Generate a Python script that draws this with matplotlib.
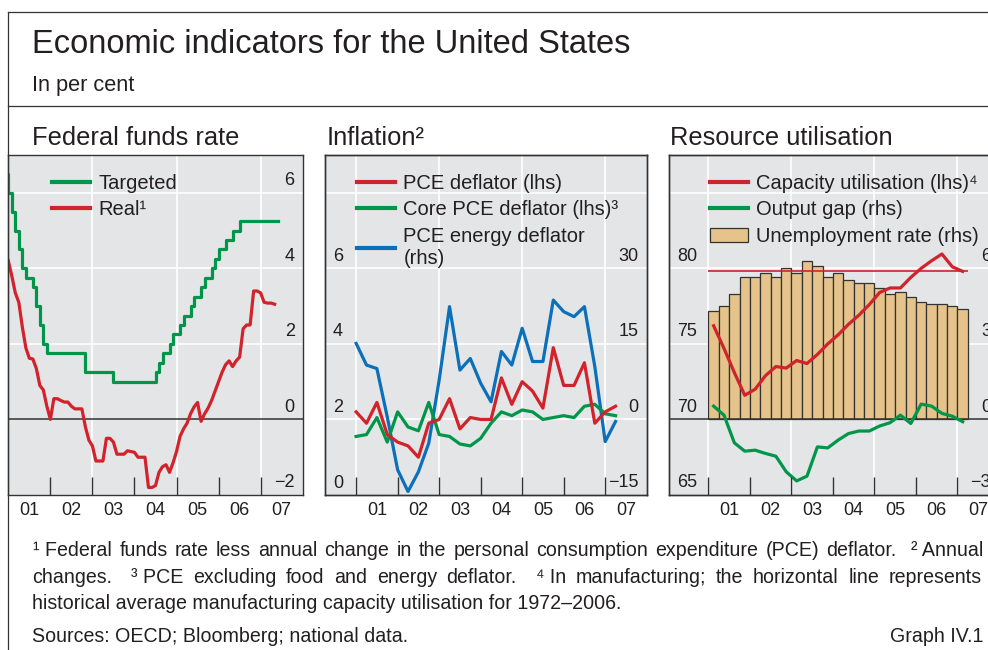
import matplotlib.pyplot as plt
import matplotlib.transforms as mtransforms
from matplotlib.lines import Line2D
from matplotlib.patches import Patch
from matplotlib.ticker import NullFormatter
import numpy as np

plt.rcParams['font.family'] = ['Liberation Sans', 'DejaVu Sans']

W, H = 988, 650
INK = '#231f20'
BG = '#e4e5e7'
EDGE = '#333333'
RED = '#d0232b'
GREEN = '#00964a'
BLUE = '#0b70b9'
TAN = '#e5c38b'

# ---- data ----
# fed funds target, monthly from Dec 2000 to Jun 2007
target = [6.5,
          6.0, 5.5, 5.0, 4.5, 4.0, 3.75, 3.75, 3.5, 3.0, 2.5, 2.0, 1.75,
          1.75, 1.75, 1.75, 1.75, 1.75, 1.75, 1.75, 1.75, 1.75, 1.75, 1.25, 1.25,
          1.25, 1.25, 1.25, 1.25, 1.25, 1.25, 1.0, 1.0, 1.0, 1.0, 1.0, 1.0,
          1.0, 1.0, 1.0, 1.0, 1.0, 1.0, 1.25, 1.5, 1.75, 1.75, 2.0, 2.25,
          2.25, 2.5, 2.75, 2.75, 3.0, 3.25, 3.25, 3.5, 3.75, 3.75, 4.0, 4.25,
          4.5, 4.5, 4.75, 4.75, 5.0, 5.0, 5.25, 5.25, 5.25, 5.25, 5.25, 5.25,
          5.25, 5.25, 5.25, 5.25, 5.25, 5.25]
# real fed funds rate, monthly Jan 2001 - May 2007
real = [4.2, 3.8, 3.35, 3.1, 2.45, 1.9, 1.62, 1.6, 1.35, 0.9, 0.78, 0.35,
        0.0, 0.55, 0.55, 0.5, 0.46, 0.46, 0.35, 0.28, 0.28, 0.28, -0.2, -0.55,
        -0.7, -1.1, -1.1, -1.1, -0.5, -0.5, -0.6, -0.92, -0.92, -0.92, -0.83, -0.85,
        -0.87, -1.0, -1.0, -1.0, -1.8, -1.8, -1.75, -1.4, -1.25, -1.2, -1.4, -1.15,
        -0.85, -0.45, -0.25, -0.1, 0.15, 0.33, 0.45, -0.05, 0.15, 0.3, 0.5, 0.75,
        1.0, 1.25, 1.45, 1.55, 1.4, 1.55, 1.65, 2.4, 2.5, 2.5, 3.4, 3.4,
        3.35, 3.1, 3.08, 3.08, 3.05]

# inflation, quarterly 2001Q1 - 2007Q2
pce = [2.2, 1.9, 2.45, 1.6, 1.4, 1.3, 1.0, 1.9, 2.0, 2.55, 1.75, 2.05, 2.0,
       2.0, 3.1, 2.4, 3.0, 2.75, 2.3, 3.9, 2.9, 2.9, 3.5, 1.9, 2.2, 2.35]
core_pce = [1.55, 1.6, 2.05, 1.4, 2.2, 1.8, 1.7, 2.45, 1.6, 1.55, 1.35, 1.3, 1.5,
            1.9, 2.2, 2.1, 2.25, 2.2, 2.0, 2.05, 2.1, 2.05, 2.35, 2.4, 2.15, 2.1]
energy = [15.1, 10.8, 10.1, 0.5, -10.0, -14.3, -10.4, -4.7, 7.8, 22.4, 9.8, 12.1, 7.2,
          3.5, 13.5, 10.8, 18.1, 11.5, 11.5, 23.7, 21.4, 20.4, 22.4, 10.5, -4.4, -0.4]

# resource utilisation, quarterly 2001Q1 - 2007Q1
unemp = [4.3, 4.5, 5.0, 5.65, 5.65, 5.8, 5.65, 6.0, 5.8, 6.3, 6.1, 5.65, 5.8,
         5.55, 5.4, 5.4, 5.2, 5.0, 5.05, 4.85, 4.65, 4.6, 4.6, 4.5, 4.4]
capacity = [76.2, 74.7, 73.1, 71.6, 72.0, 72.9, 73.5, 73.4, 73.9, 73.7, 74.3, 75.0, 75.6,
            76.3, 76.9, 77.6, 78.4, 78.7, 78.7, 79.4, 80.0, 80.5, 80.95, 80.1, 79.8]
output_gap = [0.53, 0.17, -0.93, -1.26, -1.22, -1.35, -1.46, -2.08, -2.44, -2.25, -1.09, -1.13, -0.82,
              -0.56, -0.46, -0.46, -0.26, -0.13, 0.17, -0.16, 0.61, 0.53, 0.24, 0.13, -0.09]
cu_average = 79.8

year_labels = ['01', '02', '03', '04', '05', '06', '07']

t_target = 2000 + 11 / 12 + np.arange(len(target)) / 12
t_real = 2001 + np.arange(len(real)) / 12
t_infl = 2001 + 0.25 * np.arange(len(pce))
t_bars = 2001 + 0.25 * np.arange(len(unemp))
t_res = t_bars + 0.125

fig = plt.figure(figsize=(W / 100, H / 100), dpi=100)


def box(x0, y0, x1, y1):
    return [x0 / W, 1 - y1 / H, (x1 - x0) / W, (y1 - y0) / H]


def background(ax, xlim, ylim, hgrid, zero=None):
    ax.set_xlim(xlim)
    ax.set_ylim(ylim)
    ax.patch.set_visible(True)
    ax.set_facecolor(BG)
    for v in hgrid:
        ax.axhline(v, color='white', lw=1.2, zorder=0.5)
    for yr in (2001, 2003, 2005, 2007):
        ax.axvline(yr, color='white', lw=1.2, zorder=0.5)
    if zero is not None:
        ax.axhline(zero, color=EDGE, lw=1.1, zorder=2.5)


def frame(ax):
    for s in ax.spines.values():
        s.set_color(EDGE)
        s.set_linewidth(1)
    ax.tick_params(axis='y', left=False, right=False, labelleft=False, labelright=False)


def xaxis(ax, first):
    ax.set_xticks(range(first, 2008))
    ax.set_xticks([y + 0.5 for y in range(2001, 2008)], minor=True)
    ax.set_xticklabels(year_labels, minor=True)
    ax.xaxis.set_major_formatter(NullFormatter())
    ax.tick_params(axis='x', which='major', direction='in', length=13, width=1, color=EDGE)
    ax.tick_params(axis='x', which='minor', length=0, pad=5, labelsize=13, labelcolor=INK)


def ylabels(ax, vals, side):
    dx = 8 if side == 'left' else -8
    off = mtransforms.ScaledTranslation(dx / 100, 7.5 / 100, fig.dpi_scale_trans)
    for v in vals:
        ax.text(0 if side == 'left' else 1, v, f'{v:g}'.replace('-', '\u2212'),
                transform=ax.get_yaxis_transform() + off,
                ha=side, va='baseline', fontsize=13, color=INK)


def legend(ax, handles, labels, fx):
    ax.legend(handles, labels, loc='upper left', bbox_to_anchor=(fx, 0.945),
              frameon=False, fontsize=14.5, handlelength=1.9, handletextpad=0.4,
              labelspacing=0.38, borderpad=0, borderaxespad=0, labelcolor=INK)


# ---- panel 1: federal funds rate ----
ax1 = fig.add_axes(box(8.3, 155, 302.7, 495))
background(ax1, (2001, 2008), (-2, 7), [2, 4, 6], zero=0)
frame(ax1)
xaxis(ax1, 2002)
ax1.plot(t_target, target, color=GREEN, lw=2.3, drawstyle='steps-post', zorder=3)
ax1.plot(t_real, real, color=RED, lw=2.3, zorder=3)
ylabels(ax1, [-2, 0, 2, 4, 6], 'right')
legend(ax1, [Line2D([], [], color=GREEN, lw=3), Line2D([], [], color=RED, lw=3)],
       ['Targeted', 'Real\u00b9'], 0.148)

# ---- panel 2: inflation ----
ax2 = fig.add_axes(box(325, 155, 646.7, 495))
tw2 = ax2.twinx()
ax2.set_zorder(tw2.get_zorder() + 1)
ax2.patch.set_visible(False)
ax2.set_xlim(2000.25, 2008.0)
ax2.set_ylim(0, 9)
background(tw2, (2000.25, 2008.0), (-15, 52.5), [0, 15, 30, 45])
frame(ax2)
frame(tw2)
xaxis(ax2, 2001)
tw2.plot(t_infl, energy, color=BLUE, lw=2.3, zorder=3)
ax2.plot(t_infl, core_pce, color=GREEN, lw=2.3, zorder=3)
ax2.plot(t_infl, pce, color=RED, lw=2.3, zorder=3)
ylabels(ax2, [0, 2, 4, 6], 'left')
ylabels(tw2, [-15, 0, 15, 30], 'right')
legend(ax2, [Line2D([], [], color=RED, lw=3), Line2D([], [], color=GREEN, lw=3),
             Line2D([], [], color=BLUE, lw=3)],
       ['PCE deflator (lhs)', 'Core PCE deflator (lhs)\u00b3', 'PCE energy deflator\n(rhs)'], 0.0995)

# ---- panel 3: resource utilisation ----
ax3 = fig.add_axes(box(669, 155, 999, 495))
tw3 = ax3.twinx()
ax3.set_zorder(tw3.get_zorder() + 1)
ax3.patch.set_visible(False)
ax3.set_xlim(2000.05, 2008.0)
ax3.set_ylim(65, 87.5)
background(tw3, (2000.05, 2008.0), (-3, 10.5), [3, 6, 9], zero=0)
frame(ax3)
frame(tw3)
xaxis(ax3, 2001)
tw3.bar(t_bars, unemp, width=0.25, align='edge', color=TAN, edgecolor=EDGE, lw=0.9, zorder=2)
tw3.plot(t_res, output_gap, color=GREEN, lw=2.3, zorder=3)
ax3.hlines(cu_average, t_bars[0], t_bars[-1] + 0.25, color=RED, lw=1.2, zorder=3)
ax3.plot(t_res, capacity, color=RED, lw=2.3, zorder=3)
ylabels(ax3, [65, 70, 75, 80], 'left')
ylabels(tw3, [-3, 0, 3, 6], 'right')
legend(ax3, [Line2D([], [], color=RED, lw=3), Line2D([], [], color=GREEN, lw=3),
             Patch(facecolor=TAN, edgecolor=EDGE, lw=0.9)],
       ['Capacity utilisation (lhs)\u2074', 'Output gap (rhs)', 'Unemployment rate (rhs)'], 0.124)


# ---- header, frame lines, footnotes ----
def ftext(x, y, s, **kw):
    kw.setdefault('color', INK)
    kw.setdefault('va', 'baseline')
    return fig.text(x / W, 1 - y / H, s, **kw)


def hline(y, x0, x1):
    fig.add_artist(Line2D([x0 / W, x1 / W], [1 - y / H, 1 - y / H], color=EDGE, lw=0.9))


hline(11.7, 8.3, W)
hline(106, 8.3, W)
fig.add_artist(Line2D([8.3 / W, 8.3 / W], [1 - 11.7 / H, 0], color=EDGE, lw=0.9))

ftext(31.7, 53, 'Economic indicators for the United States', fontsize=23.5)
ftext(31.7, 90.7, 'In per cent', fontsize=15.7)
ftext(31.7, 145, 'Federal funds rate', fontsize=18.4)
ftext(326.7, 145, 'Inflation\u00b2', fontsize=18.4)
ftext(670, 145, 'Resource utilisation', fontsize=18.4)

renderer = fig.canvas.get_renderer()


def justify(words, y, x0, x1, size):
    arts = [ftext(0, y, w, fontsize=size) for w in words]
    widths = [a.get_window_extent(renderer).width for a in arts]
    gap = (x1 - x0 - sum(widths)) / (len(words) - 1)
    x = x0
    for a, w in zip(arts, widths):
        a.set_x(x / W)
        x += w + gap


FN = 14.1
justify(['\u00b9 Federal', 'funds', 'rate', 'less', 'annual', 'change', 'in', 'the', 'personal',
         'consumption', 'expenditure', '(PCE)', 'deflator.', '', '\u00b2 Annual'], 556, 33.3, 983, FN)
justify(['changes.', '', '\u00b3 PCE', 'excluding', 'food', 'and', 'energy', 'deflator.', '',
         '\u2074 In', 'manufacturing;', 'the', 'horizontal', 'line', 'represents'], 582.7, 31.7, 982, FN)
ftext(31.7, 609.3, 'historical average manufacturing capacity utilisation for 1972\u20132006.', fontsize=FN)
ftext(31.7, 641.7, 'Sources: OECD; Bloomberg; national data.', fontsize=FN)
ftext(983, 641.7, 'Graph IV.1', fontsize=FN, ha='right')

fig.savefig('out.png', dpi=100)
